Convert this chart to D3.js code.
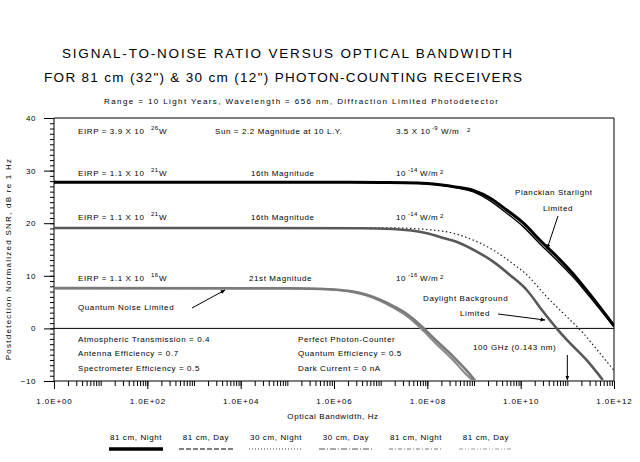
<!DOCTYPE html>
<html><head><meta charset="utf-8">
<script src="https://cdn.jsdelivr.net/npm/d3@7"></script>
<style>
body{margin:0;background:#fff}
svg{display:block}
text{font-family:"Liberation Sans",Arial,sans-serif;fill:#000}
</style>
</head><body>
<svg id="c" width="640" height="462"></svg>
<script>
// ---------------- data ----------------
const seriesNames = ["81 cm, Night", "81 cm, Day", "30 cm, Night", "30 cm, Day", "81 cm, Night", "81 cm, Day"];

// 81 cm, Night, 16th magnitude (Planckian starlight limited)
const logHz_81N16 = [0, 6, 7, 7.8, 8.27, 8.6, 9.0, 9.34, 9.7, 10.06, 10.41, 10.77, 11.13, 11.49, 12];
const snr_81N16   = [27.8, 27.8, 27.75, 27.65, 27.3, 26.9, 26.2, 24.8, 22.5, 20.0, 16.8, 13.7, 10.3, 6.4, 0.5];
// 81 cm, Day, 16th magnitude
const logHz_81D16 = [0, 6, 7, 7.8, 8.27, 8.6, 9.0, 9.34, 9.7, 10.06, 10.41, 10.77, 11.13, 11.49, 12];
const snr_81D16   = [27.8, 27.8, 27.75, 27.6, 27.25, 26.8, 25.9, 24.3, 21.9, 19.3, 16.1, 13.0, 9.7, 5.9, 0.3];
// 30 cm, Night, 16th magnitude
const logHz_30N16 = [0, 6.5, 7.26, 7.99, 8.55, 9.06, 9.41, 9.77, 10.13, 10.56, 10.99, 11.34, 11.63, 12];
const snr_30N16   = [19.1, 19.1, 19.1, 18.8, 18.1, 16.5, 14.9, 12.7, 10.2, 6.0, 2.2, -0.9, -4.0, -8.0];
// 30 cm, Day, 16th magnitude (daylight background limited)
const logHz_30D16 = [0, 6.56, 7.26, 7.99, 8.34, 8.70, 9.06, 9.41, 9.77, 10.13, 10.48, 10.77, 10.99, 11.41, 11.76];
const snr_30D16   = [19.1, 19.05, 18.9, 18.1, 17.2, 16.2, 14.6, 12.7, 10.15, 7.3, 3.2, 0.0, -2.2, -6.0, -9.8];
// 81 cm, Night, 21st magnitude (quantum noise limited)
const logHz_81N21 = [0, 5.0, 5.7, 6.13, 6.41, 6.7, 7.0, 7.3, 7.6, 7.9, 8.2, 8.56, 8.84, 9.02];
const snr_81N21   = [7.65, 7.62, 7.5, 7.3, 7.0, 6.4, 5.4, 4.1, 2.5, 0.2, -2.4, -5.4, -8.0, -9.9];
// 81 cm, Day, 21st magnitude
const logHz_81D21 = [0, 5.0, 5.7, 6.13, 6.41, 6.7, 7.0, 7.3, 7.6, 7.9, 8.2, 8.56, 8.84, 8.98];
const snr_81D21   = [7.65, 7.62, 7.5, 7.25, 6.9, 6.25, 5.2, 3.8, 2.1, -0.3, -3.0, -6.1, -8.8, -9.9];

const xMajorExp = [0, 2, 4, 6, 8, 10, 12];
const xTickLabels = ["1.0E+00", "1.0E+02", "1.0E+04", "1.0E+06", "1.0E+08", "1.0E+10", "1.0E+12"];
const yMajor = [-10, 0, 10, 20, 30, 40];
const arrowHz = 1e11;

// ---------------- chart ----------------
const svg = d3.select("#c");
const x = d3.scaleLog().domain([1, 1e12]).range([54, 614]);
const y = d3.scaleLinear().domain([-10, 40]).range([381, 118]);

function txt(xp, yp, s, size, opt = {}) {
  const t = svg.append("text").attr("x", xp).attr("y", yp).text(s)
    .style("font-size", size + "px")
    .style("letter-spacing", (opt.ls !== undefined ? opt.ls : 0.6) + "px");
  if (opt.anchor) t.attr("text-anchor", opt.anchor);
  if (opt.weight) t.style("font-weight", opt.weight);
  if (opt.family) t.style("font-family", opt.family);
  if (opt.len) t.attr("textLength", opt.len).attr("lengthAdjust", "spacing");
  return t;
}

// titles
txt(62, 58, "SIGNAL-TO-NOISE RATIO VERSUS OPTICAL BANDWIDTH", 13.5, {len: 450, ls: 0});
txt(44, 82, "FOR 81 cm (32\") & 30 cm (12\") PHOTON-COUNTING RECEIVERS", 13.5, {len: 478, ls: 0});
txt(104, 104, "Range = 10 Light Years, Wavelength = 656 nm, Diffraction Limited Photodetector", 8, {len: 394, ls: 0});

// y axis
const gy = svg.append("g").attr("transform", "translate(54,0)");
gy.call(d3.axisLeft(y).tickValues(d3.range(-10, 41, 1)).tickSize(4).tickSizeOuter(0).tickFormat(""));
gy.append("g").call(d3.axisLeft(y).tickValues(yMajor).tickSize(10).tickSizeOuter(0).tickPadding(8).tickFormat(d3.format("d")));
gy.selectAll(".domain").remove();
gy.selectAll("text").style("font-size", "8px").style("font-family", "Liberation Sans, Arial, sans-serif").style("letter-spacing", "0.6px");
gy.selectAll("line").attr("stroke", "#000");

// x axis
const minorVals = [];
for (let k = 0; k < 12; k++) for (let m = 2; m <= 10; m++) minorVals.push(m * Math.pow(10, k));
const gx = svg.append("g").attr("transform", "translate(0,381)");
gx.call(d3.axisBottom(x).tickValues(minorVals).tickSize(5).tickSizeOuter(0).tickFormat(""));
gx.append("g").call(d3.axisBottom(x).tickValues(xMajorExp.map(e => Math.pow(10, e))).tickSize(8).tickSizeOuter(0).tickPadding(9)
  .tickFormat((d, i) => xTickLabels[i]));
gx.selectAll(".domain").remove();
gx.selectAll("text").style("font-size", "8px").style("font-family", "Liberation Sans, Arial, sans-serif").style("letter-spacing", "0.9px");
gx.selectAll("line").attr("stroke", "#000");

// frame
const frame = svg.append("g").attr("stroke", "#000").attr("stroke-width", 1).attr("fill", "none");
frame.append("line").attr("x1", x(1)).attr("x2", x(1e12)).attr("y1", y(40)).attr("y2", y(40));
frame.append("line").attr("x1", x(1)).attr("x2", x(1e12)).attr("y1", y(-10)).attr("y2", y(-10));
frame.append("line").attr("x1", x(1)).attr("x2", x(1)).attr("y1", y(40)).attr("y2", y(-10));
frame.append("line").attr("x1", x(1e12)).attr("x2", x(1e12)).attr("y1", y(40)).attr("y2", y(-10));
frame.append("line").attr("x1", x(1)).attr("x2", x(1e12)).attr("y1", y(0)).attr("y2", y(0));

// axis titles
txt(333, 419, "Optical Bandwidth, Hz", 8, {anchor: "middle", ls: 0.6});
txt(0, 0, "Postdetection Normalized SNR, dB re 1 Hz", 8, {anchor: "middle", ls: 1.25})
  .attr("transform", "translate(11,259) rotate(-90)");

// curves
const series = [
  {f: logHz_30N16, v: snr_30N16, color: "#222", w: 1.2, dash: "1.5,2.5"},
  {f: logHz_30D16, v: snr_30D16, color: "#585858", w: 2.6, dash: null},
  {f: logHz_81D21, v: snr_81D21, color: "#8a8a8a", w: 2.2, dash: null},
  {f: logHz_81N21, v: snr_81N21, color: "#7a7a7a", w: 2.6, dash: null},
  {f: logHz_81D16, v: snr_81D16, color: "#000", w: 1.4, dash: null},
  {f: logHz_81N16, v: snr_81N16, color: "#000", w: 3, dash: null}
];
const line = d3.line().x(d => x(Math.pow(10, d[0]))).y(d => y(d[1])).curve(d3.curveMonotoneX);
svg.append("clipPath").attr("id", "pc").append("rect").attr("x", 54).attr("y", 118).attr("width", 560).attr("height", 263);
const gc = svg.append("g").attr("clip-path", "url(#pc)");
series.forEach(s => {
  gc.append("path").datum(s.f.map((f, i) => [f, s.v[i]]))
    .attr("d", line).attr("fill", "none").attr("stroke", s.color).attr("stroke-width", s.w)
    .attr("stroke-dasharray", s.dash);
});

// arrow marker
svg.append("defs").append("marker").attr("id", "ah").attr("viewBox", "0 0 10 10")
  .attr("refX", 9).attr("refY", 5).attr("markerWidth", 5).attr("markerHeight", 5)
  .attr("markerUnits", "userSpaceOnUse").attr("orient", "auto")
  .append("path").attr("d", "M0,1 L10,5 L0,9 Z").attr("fill", "#000");
function arrow(x1, y1, x2, y2) {
  svg.append("line").attr("x1", x1).attr("y1", y1).attr("x2", x2).attr("y2", y2)
    .attr("stroke", "#000").attr("stroke-width", 1).attr("marker-end", "url(#ah)");
}

// annotations
function eirp(yb, mant, exp) {
  txt(78, yb, "EIRP = " + mant + " X 10", 8);
  txt(151, yb - 4, exp, 6, {ls: 0.3});
  txt(159, yb, "W", 8, {ls: 0});
}
eirp(134, "3.9", "26");
eirp(176, "1.1", "21");
eirp(220, "1.1", "21");
eirp(281, "1.1", "16");
txt(215, 134, "Sun = 2.2 Magnitude at 10 L.Y.", 8);
txt(251, 176, "16th Magnitude", 8);
txt(251, 220, "16th Magnitude", 8);
txt(249, 281, "21st Magnitude", 8);

txt(396, 134, "3.5 X 10", 8);
txt(432, 130, "-9", 6, {ls: 0.3});
txt(441, 134, "W/m", 8);
txt(467, 132, "2", 6);
function irr(yb, exp) {
  txt(396, yb, "10", 8);
  txt(408, yb - 4, exp, 6, {ls: 0.3});
  txt(420, yb, "W/m", 8);
  txt(440, yb - 2, "2", 6);
}
irr(176, "-14");
irr(220, "-14");
irr(281, "-16");

txt(78, 310, "Quantum Noise Limited", 8);
arrow(192, 308, 225, 290);
txt(515, 195, "Planckian Starlight", 8);
txt(543, 211, "Limited", 8);
arrow(558, 216, 547, 249);
txt(423, 301, "Daylight Background", 8);
txt(460, 316, "Limited", 8);
arrow(498, 314, 545, 320);
txt(473, 350, "100 GHz (0.143 nm)", 8);
arrow(x(arrowHz), 355, x(arrowHz), 380);

txt(78, 342, "Atmospheric Transmission = 0.4", 8);
txt(78, 356, "Antenna Efficiency = 0.7", 8);
txt(78, 371, "Spectrometer Efficiency = 0.5", 8);
txt(298, 342, "Perfect Photon-Counter", 8);
txt(298, 356, "Quantum Efficiency = 0.5", 8);
txt(298, 371, "Dark Current = 0 nA", 8);

// legend
const legendStyles = [
  {color: "#000", w: 3.5, dash: null},
  {color: "#000", w: 1, dash: "5,2"},
  {color: "#444", w: 1, dash: "1,2"},
  {color: "#555", w: 1, dash: "6,2,1,2"},
  {color: "#777", w: 1, dash: "4,2,1,2"},
  {color: "#999", w: 1, dash: "4,2,1,2,1,2"}
];
const lx = d3.scalePoint().domain(d3.range(seriesNames.length)).range([136, 486]);
const lg = svg.append("g").selectAll("g").data(seriesNames).join("g")
  .attr("transform", (d, i) => `translate(${lx(i)},0)`);
lg.append("text").attr("x", 0).attr("y", 440).attr("text-anchor", "middle")
  .style("font-size", "8px").style("letter-spacing", "0.6px").text(d => d);
lg.append("line").attr("x1", -27).attr("x2", 27).attr("y1", 449).attr("y2", 449)
  .attr("stroke", (d, i) => legendStyles[i].color)
  .attr("stroke-width", (d, i) => legendStyles[i].w)
  .attr("stroke-dasharray", (d, i) => legendStyles[i].dash);
</script>
</body></html>
